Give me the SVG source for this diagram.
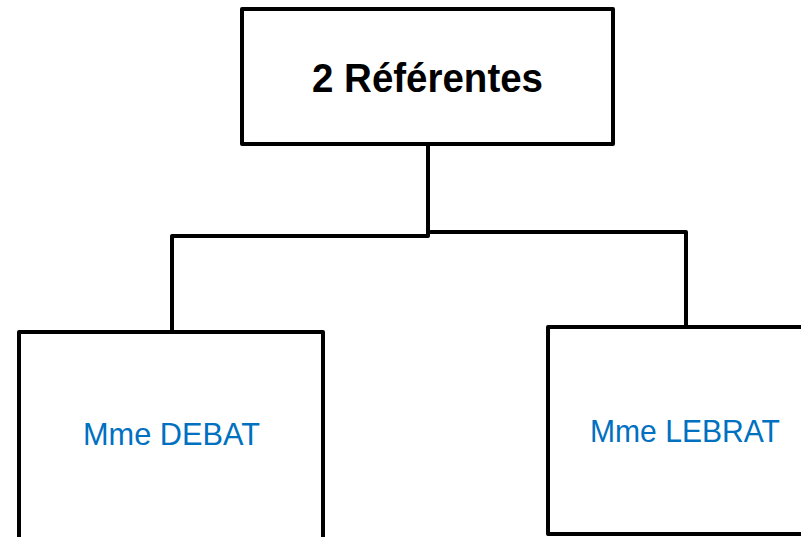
<svg xmlns="http://www.w3.org/2000/svg" width="801" height="537" viewBox="0 0 801 537">
<style>
.box{fill:#fff;stroke:#000;stroke-width:4;stroke-linejoin:round}
.conn{fill:none;stroke:#000;stroke-width:4;stroke-linejoin:round}
.title{font-family:"Liberation Sans",Arial,sans-serif;font-weight:bold;font-size:40px;fill:#000}
.name{font-family:"Liberation Sans",Arial,sans-serif;font-size:32px;fill:#0070C0}
</style>
<rect width="801" height="537" fill="#fff"/>
<g id="connectors">
<path class="conn" d="M428,144 V236 H172 V332"/>
<path class="conn" d="M428,232 H686 V327"/>
</g>
<g id="node-top">
<rect class="box" x="242" y="9" width="371" height="135"/>
<text class="title" x="312" y="92" textLength="231" lengthAdjust="spacingAndGlyphs">2 Référentes</text>
</g>
<g id="node-debat">
<rect class="box" x="19" y="332" width="304" height="215"/>
<text class="name" x="83" y="445" textLength="177" lengthAdjust="spacingAndGlyphs">Mme DEBAT</text>
</g>
<g id="node-lebrat">
<rect class="box" x="548" y="327" width="270" height="207"/>
<text class="name" x="590" y="442" textLength="190" lengthAdjust="spacingAndGlyphs">Mme LEBRAT</text>
</g>
</svg>
